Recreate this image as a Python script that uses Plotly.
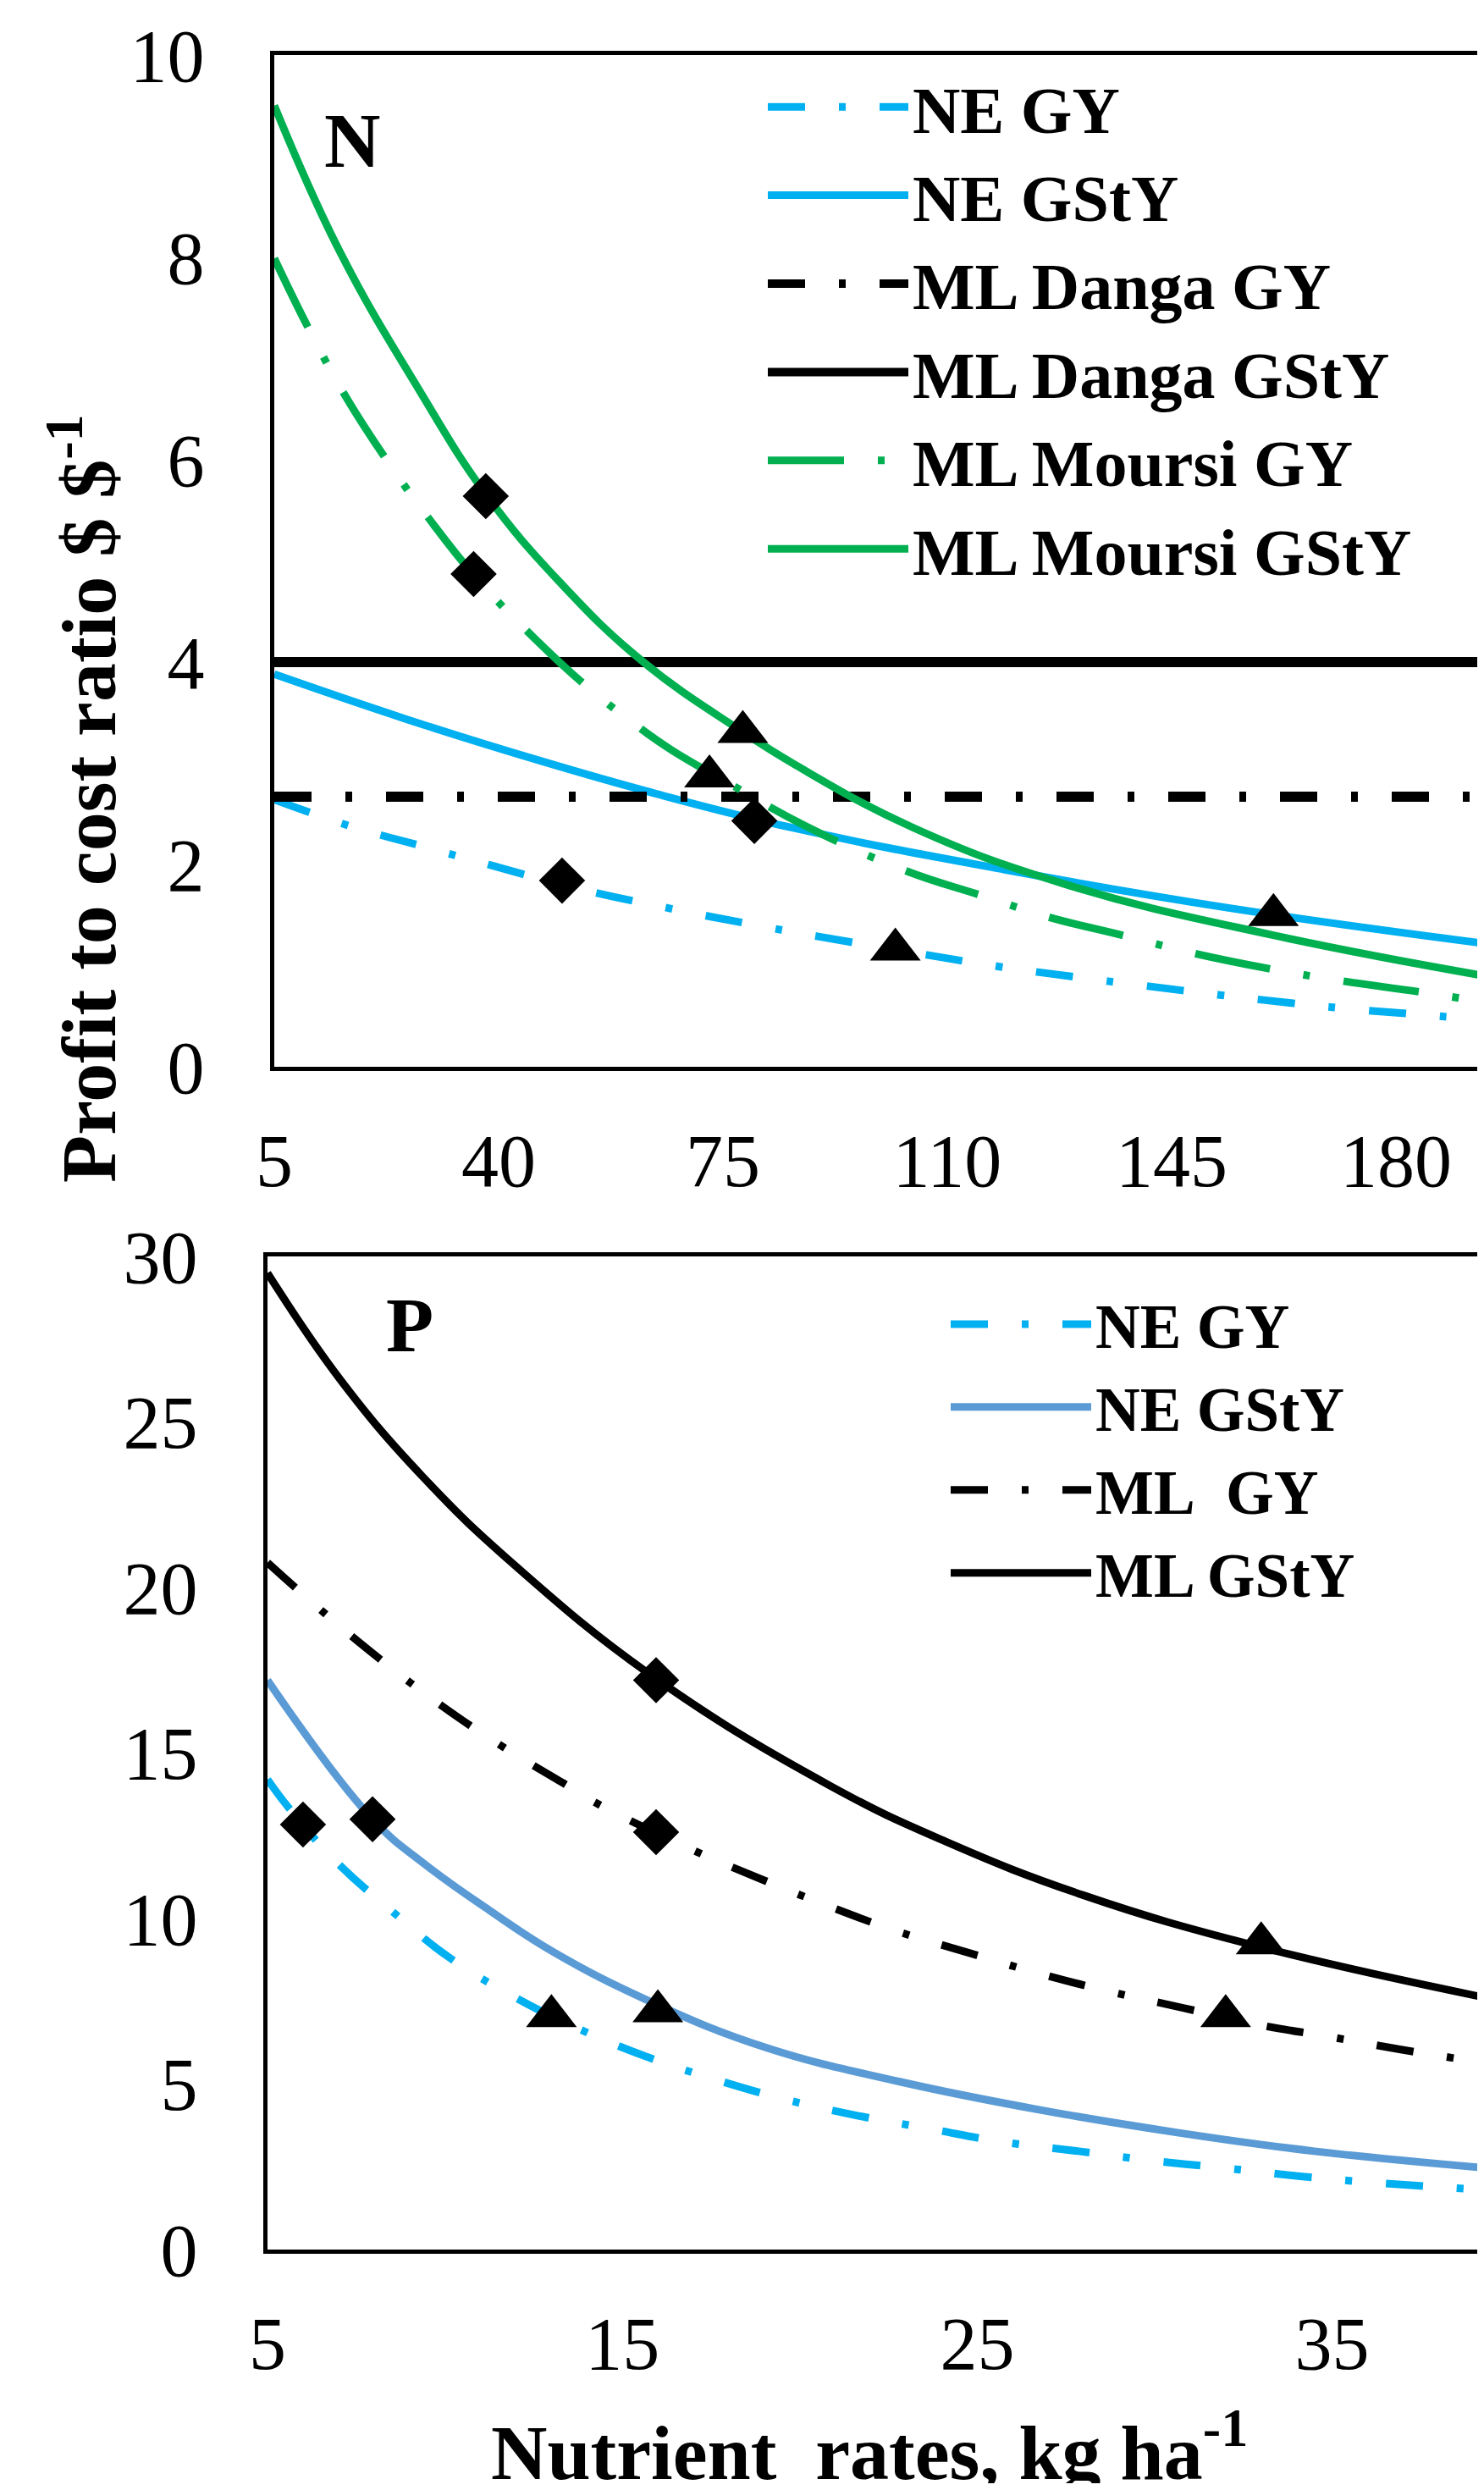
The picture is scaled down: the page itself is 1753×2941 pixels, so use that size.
import plotly.graph_objects as go

# ---------------- N panel data (x: kg/ha, y: profit to cost ratio) ----------------
n_ne_gy_x = [5, 17.3, 28.1, 38.9, 52.5, 67.1, 78.4, 89.7, 105.5, 118.1, 129.7, 140.9, 152.5, 163.7, 174.9, 186.9, 193.7]
n_ne_gy_y = [2.64, 2.37, 2.18, 1.99, 1.76, 1.56, 1.42, 1.29, 1.12, 0.99, 0.89, 0.80, 0.71, 0.63, 0.56, 0.50, 0.46]

n_ne_gsty_x = [5, 25.4, 46.2, 64.5, 86, 118.8, 153.9, 193.7]
n_ne_gsty_y = [3.88, 3.44, 3.03, 2.70, 2.36, 1.95, 1.57, 1.22]

n_danga_gy_x = [5, 193.7]
n_danga_gy_y = [2.67, 2.67]

n_danga_gsty_x = [5, 193.7]
n_danga_gsty_y = [4.0, 4.0]

n_moursi_gy_x = [5, 10.5, 16, 22.5, 29, 36, 44.4, 53, 62, 67, 76, 87.6, 103.4, 115, 125.8, 137.3, 148.6, 160.2, 171.4, 183.7, 193.7]
n_moursi_gy_y = [7.99, 7.28, 6.64, 6.00, 5.43, 4.87, 4.31, 3.80, 3.35, 3.13, 2.80, 2.39, 1.94, 1.70, 1.48, 1.30, 1.12, 0.97, 0.85, 0.74, 0.64]

n_moursi_gsty_x = [5, 15.2, 27.5, 38, 49.4, 62.4, 77.6, 86.4, 104.8, 128.6, 160.9, 193.7]
n_moursi_gsty_y = [9.5, 8.06, 6.70, 5.66, 4.80, 4.01, 3.33, 2.98, 2.36, 1.80, 1.30, 0.90]

n_diamond_x = [38.0, 36.1, 49.9, 79.9]
n_diamond_y = [5.64, 4.87, 1.84, 2.43]
n_triangle_x = [78.1, 72.9, 101.9, 160.9]
n_triangle_y = [3.31, 2.87, 1.16, 1.50]

n_xticks = [5, 40, 75, 110, 145, 180]
n_yticks = [0, 2, 4, 6, 8, 10]

# ---------------- P panel data ----------------
p_ne_gy_x = [5, 5.63, 6.96, 8.51, 10.15, 11.89, 13.62, 15.72, 17.64, 19.58, 21.65, 23.70, 25.67, 27.86, 29.89, 31.9, 34.04, 36.08, 38.13, 39.27]
p_ne_gy_y = [14.2, 13.3, 11.69, 10.22, 8.80, 7.67, 6.74, 5.81, 5.13, 4.54, 4.04, 3.64, 3.26, 2.97, 2.69, 2.47, 2.22, 2.03, 1.88, 1.80]

p_ne_gsty_x = [5, 7.96, 9.42, 11.25, 13.07, 15.81, 19.05, 22.82, 26.71, 30.6, 34.5, 39.27]
p_ne_gsty_y = [17.2, 13.0, 11.65, 10.25, 8.98, 7.48, 6.10, 5.07, 4.23, 3.54, 2.97, 2.47]

p_ml_gy_x = [5, 6.59, 8.19, 9.88, 11.57, 13.35, 14.21, 17.0, 18.91, 20.87, 22.82, 24.77, 26.84, 28.79, 30.8, 32.88, 34.91, 36.9, 39.1]
p_ml_gy_y = [20.75, 19.24, 17.82, 16.45, 15.23, 14.08, 13.52, 12.06, 11.19, 10.35, 9.59, 8.96, 8.31, 7.78, 7.30, 6.80, 6.43, 6.05, 5.67]

p_ml_gsty_x = [5, 7.05, 9.37, 11.97, 15.94, 20.87, 24.1, 28.0, 32.94, 39.27]
p_ml_gsty_y = [29.5, 26.28, 23.35, 20.67, 17.25, 14.0, 12.33, 10.70, 9.15, 7.62]

p_diamond_x = [6.0, 7.96, 15.95, 15.95]
p_diamond_y = [12.84, 13.0, 12.61, 17.2]
p_triangle_x = [13.0, 16.0, 32.0, 33.0]
p_triangle_y = [7.05, 7.2, 7.05, 9.25]

p_xticks = [5, 15, 25, 35]
p_yticks = [0, 5, 10, 15, 20, 25, 30]

# ---------------- styles ----------------
BLUE = "#00B0F0"
BLUE2 = "#5B9BD5"
GREEN = "#00B050"
BLACK = "#000000"
DASHDOT = "44px,40px,8px,40px"
LONGDASHDOT = "90px,40px,8px,40px"
SERIF = "Liberation Serif, Times New Roman, serif"

W, H = 1737, 2925  # figure size (page has 8px body margin)


def fx(page_x):
    return (page_x - 8) / W


def fy(page_y):
    return 1 - (page_y - 8) / H


fig = go.Figure()


def line(x, y, name, color, width, dash, xa, ya, legend):
    fig.add_trace(go.Scatter(
        x=x, y=y, name=name, mode="lines",
        line=dict(color=color, width=width, dash=dash, shape="spline", smoothing=1.2),
        xaxis=xa, yaxis=ya, legend=legend, hoverinfo="skip"))


def markers(x, y, symbol, size, xa, ya):
    fig.add_trace(go.Scatter(
        x=x, y=y, mode="markers", showlegend=False,
        marker=dict(symbol=symbol, size=size, color=BLACK, line=dict(width=0)),
        xaxis=xa, yaxis=ya, hoverinfo="skip"))


# N panel
line(n_ne_gy_x, n_ne_gy_y, "NE GY", BLUE, 9, DASHDOT, "x", "y", "legend")
line(n_ne_gsty_x, n_ne_gsty_y, "NE GStY", BLUE, 9, "solid", "x", "y", "legend")
line(n_danga_gy_x, n_danga_gy_y, "ML Danga GY", BLACK, 12, DASHDOT, "x", "y", "legend")
line(n_danga_gsty_x, n_danga_gsty_y, "ML Danga GStY", BLACK, 12, "solid", "x", "y", "legend")
line(n_moursi_gy_x, n_moursi_gy_y, "ML Moursi GY", GREEN, 9, LONGDASHDOT, "x", "y", "legend")
line(n_moursi_gsty_x, n_moursi_gsty_y, "ML Moursi GStY", GREEN, 9, "solid", "x", "y", "legend")
markers(n_diamond_x, n_diamond_y, "diamond", 42, "x", "y")
markers(n_triangle_x, n_triangle_y, "triangle-up", 52, "x", "y")

# P panel
line(p_ne_gy_x, p_ne_gy_y, "NE GY", BLUE, 9, DASHDOT, "x2", "y2", "legend2")
line(p_ne_gsty_x, p_ne_gsty_y, "NE GStY", BLUE2, 9, "solid", "x2", "y2", "legend2")
line(p_ml_gy_x, p_ml_gy_y, "ML\u00a0 GY", BLACK, 9, DASHDOT, "x2", "y2", "legend2")
line(p_ml_gsty_x, p_ml_gsty_y, "ML GStY", BLACK, 9, "solid", "x2", "y2", "legend2")
markers(p_diamond_x, p_diamond_y, "diamond", 42, "x2", "y2")
markers(p_triangle_x, p_triangle_y, "triangle-up", 52, "x2", "y2")

tickfont = dict(family=SERIF, size=88, color=BLACK)
axis_common = dict(showgrid=False, zeroline=False, showline=True, linecolor=BLACK,
                   linewidth=5, ticks="", tickfont=tickfont)

fig.update_layout(
    template="none",
    width=W, height=H,
    margin=dict(l=0, r=0, t=0, b=0),
    paper_bgcolor="white", plot_bgcolor="white",
    xaxis=dict(domain=[fx(324), 1.0], range=[5, 5 + (1745 - 324) / 7.571],
               tickmode="array", tickvals=n_xticks, mirror=True,
               ticklabelstandoff=30, anchor="y", **axis_common),
    yaxis=dict(domain=[fy(1260), fy(65)], range=[0, 10],
               tickmode="array", tickvals=n_yticks, mirror=False,
               ticklabelstandoff=60, anchor="x", **axis_common),
    xaxis2=dict(domain=[fx(316), 1.0], range=[5, 5 + (1745 - 316) / 41.92],
                tickmode="array", tickvals=p_xticks, mirror=True,
                ticklabelstandoff=30, anchor="y2", **axis_common),
    yaxis2=dict(domain=[fy(2657), fy(1484)], range=[0, 30],
                tickmode="array", tickvals=p_yticks, mirror=False,
                ticklabelstandoff=60, anchor="x2", **axis_common),
    legend=dict(x=fx(902), y=fy(69), xanchor="left", yanchor="top",
                bgcolor="rgba(0,0,0,0)", borderwidth=0, itemwidth=166,
                font=dict(family=SERIF, size=78, color=BLACK, weight="bold"),
                traceorder="normal"),
    legend2=dict(x=fx(1118), y=fy(1510), xanchor="left", yanchor="top",
                 bgcolor="rgba(0,0,0,0)", borderwidth=0, itemwidth=166,
                 font=dict(family=SERIF, size=73, color=BLACK, weight="bold"),
                 traceorder="normal"),
    showlegend=True,
)

ann_font_title = dict(family=SERIF, size=92, color=BLACK)
fig.add_annotation(x=fx(416), y=fy(166), xref="paper", yref="paper", text="<b>N</b>",
                   showarrow=False, xanchor="center", yanchor="middle",
                   font=dict(family=SERIF, size=92, color=BLACK))
fig.add_annotation(x=fx(484), y=fy(1565), xref="paper", yref="paper", text="<b>P</b>",
                   showarrow=False, xanchor="center", yanchor="middle",
                   font=dict(family=SERIF, size=92, color=BLACK))
fig.add_annotation(x=fx(98), y=fy(943), xref="paper", yref="paper",
                   text="<b>Profit to cost ratio $ $<sup>-1</sup></b>",
                   showarrow=False, textangle=-90, xanchor="center", yanchor="middle",
                   font=ann_font_title)
fig.add_annotation(x=fx(1027), y=fy(2890), xref="paper", yref="paper",
                   text="<b>Nutrient\u00a0 rates, kg ha<sup>-1</sup></b>",
                   showarrow=False, xanchor="center", yanchor="middle",
                   font=ann_font_title)

fig.write_html("out.html")
